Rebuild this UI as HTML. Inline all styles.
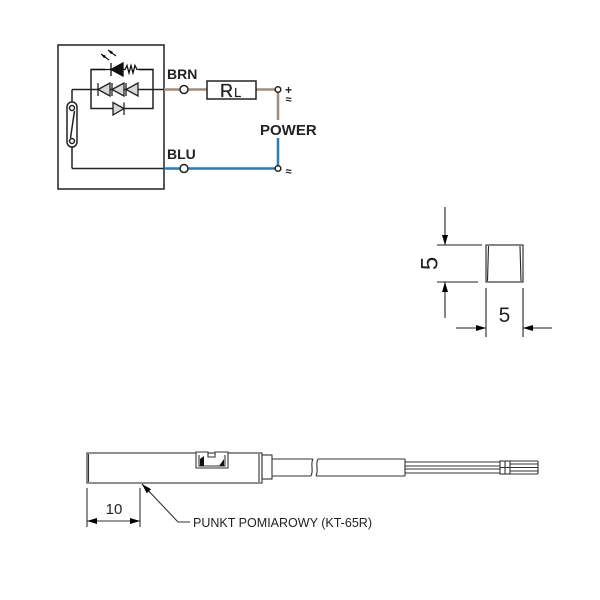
<!DOCTYPE html>
<html><head><meta charset="utf-8"><style>
html,body{margin:0;padding:0;background:#fff;}
svg{display:block;}
text{font-family:"Liberation Sans",Arial,sans-serif;}
</style></head><body>
<svg width="600" height="600" viewBox="0 0 600 600" xmlns="http://www.w3.org/2000/svg">
<defs>
<marker id="ah" viewBox="0 0 10 6" refX="10" refY="3" markerWidth="10" markerHeight="6" markerUnits="userSpaceOnUse" orient="auto">
<path d="M0,0 L10,3 L0,6 Z" fill="#000"/></marker>
<marker id="ahs" viewBox="0 0 10 6" refX="10" refY="3" markerWidth="5" markerHeight="3" markerUnits="userSpaceOnUse" orient="auto">
<path d="M0,0 L10,3 L0,6 Z" fill="#000"/></marker>
</defs>

<!-- ===== Circuit ===== -->
<g stroke="#222" stroke-width="1.5" fill="none">
<rect x="58" y="45" width="106" height="144"/>
<rect x="91" y="69.5" width="62" height="39"/>
<line x1="72" y1="89.5" x2="164" y2="89.5"/>
<line x1="72" y1="89.5" x2="72" y2="102"/>
<rect x="67" y="102" width="10" height="45" rx="5"/>
<circle cx="72" cy="108" r="2.5"/>
<circle cx="72" cy="141" r="2.5"/>
<line x1="74.5" y1="111" x2="70.5" y2="138"/>
<line x1="72" y1="147" x2="72" y2="168.5"/>
<line x1="72" y1="168.5" x2="164" y2="168.5"/>
</g>
<g stroke="#222" stroke-width="1.3" fill="#d8d8d8">
<path d="M98,89.5 L110,83 L110,96 Z"/>
<path d="M112,89.5 L124,83 L124,96 Z"/>
<path d="M126,89.5 L138,83 L138,96 Z"/>
<line x1="98" y1="83" x2="98" y2="96"/>
<line x1="112" y1="83" x2="112" y2="96"/>
<line x1="126" y1="83" x2="126" y2="96"/>
<path d="M113,102.5 L113,115 L124,108.5 Z"/>
<line x1="124" y1="102.5" x2="124" y2="115"/>
</g>
<rect x="105" y="62" width="34" height="14" fill="#fff"/>
<g stroke="#111" stroke-width="1.3">
<path d="M111,69.5 L123,63 L123,76 Z" fill="#111"/>
<line x1="111" y1="63" x2="111" y2="76"/>
<polyline fill="none" points="123,69.5 125,69.5 127,65.5 129,73 131,65.5 133,73 135,65.5 137,69.5 139,69.5"/>
<line x1="139" y1="69.5" x2="153" y2="69.5"/>
<line x1="91" y1="69.5" x2="111" y2="69.5"/>
<line x1="109" y1="60" x2="101" y2="54" marker-end="url(#ahs)" stroke-width="1.1"/>
<line x1="116" y1="56" x2="108" y2="50" marker-end="url(#ahs)" stroke-width="1.1"/>
</g>

<g fill="none" stroke-width="2.5">
<line x1="164" y1="89.5" x2="207" y2="89.5" stroke="#a38b7c"/>
<line x1="256" y1="89.5" x2="278" y2="89.5" stroke="#a38b7c"/>
<line x1="278" y1="89.5" x2="278" y2="120" stroke="#a38b7c"/>
<line x1="164" y1="168.5" x2="278" y2="168.5" stroke="#2c7bb6"/>
<line x1="278" y1="138" x2="278" y2="168.5" stroke="#2c7bb6"/>
</g>
<g stroke="#222" stroke-width="1.5" fill="#fff">
<circle cx="184" cy="89.5" r="4"/>
<circle cx="184" cy="168.5" r="4"/>
<circle cx="278" cy="89.5" r="2.8"/>
<circle cx="278" cy="168.5" r="2.8"/>
<rect x="207" y="81" width="49" height="18"/>
</g>
<text x="220" y="97" font-size="18" fill="#222" stroke="#222" stroke-width="0.3">R</text>
<text x="234" y="97" font-size="13" fill="#222" stroke="#222" stroke-width="0.2">L</text>
<text x="167" y="79" font-size="14" font-weight="bold" fill="#222">BRN</text>
<text x="167" y="159" font-size="14" font-weight="bold" fill="#222">BLU</text>
<text x="260" y="135" font-size="15" font-weight="bold" fill="#222">POWER</text>
<text x="285" y="94" font-size="12" font-weight="bold" fill="#222">+</text>
<text x="285.5" y="103" font-size="11" font-weight="bold" fill="#222">≈</text>
<text x="285.5" y="175" font-size="11" font-weight="bold" fill="#222">≈</text>

<!-- ===== Square cross-section ===== -->
<g stroke="#222" stroke-width="1.1" fill="none">
<rect x="486" y="245" width="37" height="37"/>
<line x1="488.5" y1="246" x2="487.5" y2="281"/>
<line x1="520" y1="246" x2="521" y2="281"/>
<line x1="437" y1="245" x2="482" y2="245"/>
<line x1="437" y1="282" x2="478" y2="282"/>
<line x1="445" y1="207" x2="445" y2="245" marker-end="url(#ah)"/>
<line x1="445" y1="318" x2="445" y2="282" marker-end="url(#ah)"/>
<line x1="486" y1="288" x2="486" y2="337"/>
<line x1="523" y1="288" x2="523" y2="337"/>
<line x1="456" y1="328" x2="486" y2="328" marker-end="url(#ah)"/>
<line x1="552" y1="328" x2="523" y2="328" marker-end="url(#ah)"/>
</g>
<text x="0" y="0" font-size="24" fill="#222" text-anchor="middle" transform="translate(437.5,263.5) rotate(-90)">5</text>
<text x="504.5" y="322" font-size="21" fill="#222" text-anchor="middle">5</text>

<!-- ===== Sensor side view ===== -->
<g stroke="#333" stroke-width="1.1" fill="none">
<rect x="87" y="453" width="175" height="30"/>
<line x1="88.5" y1="454" x2="88.5" y2="482"/>
<line x1="259" y1="454" x2="259" y2="482"/>
<rect x="262" y="455" width="10" height="24"/>
<path d="M196,452 L208,452 L208,457 L215,457 L215,452 L228,452 L228,468 L196,468 Z" fill="#fff"/>
<path d="M199,455 L199,466 L225,466 L225,455"/>
<line x1="272" y1="459" x2="313" y2="459"/>
<line x1="272" y1="476" x2="311" y2="476"/>
<line x1="318" y1="459" x2="405" y2="459"/>
<line x1="316" y1="476" x2="405" y2="476"/>
<path d="M313,459 C310,464 314,470 311,476"/>
<path d="M318,459 C315,464 319,470 316,476"/>
<line x1="405" y1="459" x2="405" y2="476"/>
<line x1="405" y1="462" x2="500" y2="462"/>
<line x1="405" y1="466" x2="500" y2="466"/>
<line x1="405" y1="469" x2="500" y2="469"/>
<line x1="405" y1="473" x2="500" y2="473"/>
<rect x="500" y="461" width="10" height="13"/>
<line x1="505" y1="461" x2="505" y2="474"/>
<line x1="500" y1="467.5" x2="510" y2="467.5"/>
<line x1="510" y1="461" x2="538" y2="461"/>
<line x1="510" y1="464" x2="538" y2="464"/>
<line x1="510" y1="467.5" x2="538" y2="467.5"/>
<line x1="510" y1="471" x2="538" y2="471"/>
<line x1="510" y1="474" x2="538" y2="474"/>
<line x1="538" y1="461" x2="538" y2="474"/>
</g>
<path d="M200,466 L200,459 L204,456 L204,466 Z" fill="#111"/>
<path d="M224,466 L224,459 L219,466 Z" fill="#111"/>

<g stroke="#333" stroke-width="1.1" fill="none">
<line x1="87" y1="488" x2="87" y2="527"/>
<line x1="140" y1="488" x2="140" y2="527"/>
<line x1="113" y1="521" x2="87" y2="521" marker-end="url(#ah)"/>
<line x1="113" y1="521" x2="140" y2="521" marker-end="url(#ah)"/>
<polyline points="190,522 178,522 144,486"/>
<line x1="150" y1="492.4" x2="142" y2="484" marker-end="url(#ah)"/>
</g>
<text x="114" y="514" font-size="15" fill="#222" text-anchor="middle">10</text>
<text x="193" y="527" font-size="13" fill="#222" textLength="179" lengthAdjust="spacingAndGlyphs">PUNKT POMIAROWY (KT-65R)</text>
</svg>
</body></html>
